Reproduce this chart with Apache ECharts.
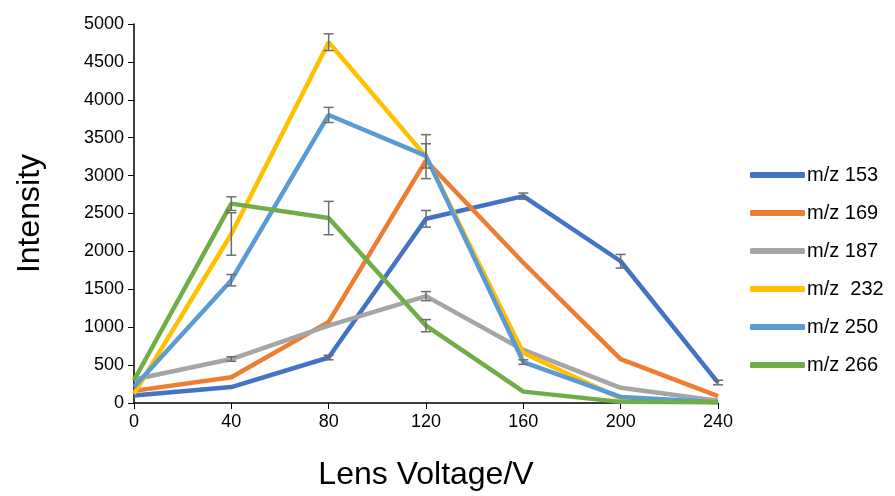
<!DOCTYPE html>
<html><head><meta charset="utf-8">
<script src="https://cdn.jsdelivr.net/npm/echarts@6/dist/echarts.min.js"></script>
<style>html,body{margin:0;padding:0;background:#fff}#c{width:895px;height:496px}</style>
</head><body><div id="c"></div>
<script>
var categories = ['0','40','80','120','160','200','240'];
var yTicks = [0,500,1000,1500,2000,2500,3000,3500,4000,4500,5000];
var names = ['m/z 153','m/z 169','m/z 187','m/z  232','m/z 250','m/z 266'];
var colors = ['#4472C4','#ED7D31','#A5A5A5','#FFC000','#5B9BD5','#70AD47'];
var mz153 = [100, 210, 600, 2430, 2730, 1870, 270];
var mz169 = [160, 340, 1070, 3200, 1850, 580, 90];
var mz187 = [310, 580, 1020, 1410, 700, 200, 30];
var mz232 = [120, 2230, 4760, 3250, 660, 60, 10];
var mz250 = [210, 1620, 3800, 3260, 540, 80, 10];
var mz266 = [300, 2630, 2440, 1020, 150, 15, 10];
var err153 = [0, 0, 30, 110, 40, 90, 30];
var err169 = [0, 0, 0, 0, 0, 0, 0];
var err187 = [0, 30, 0, 60, 0, 0, 0];
var err232 = [0, 280, 110, 290, 0, 0, 0];
var err250 = [0, 75, 100, 160, 30, 0, 0];
var err266 = [0, 90, 220, 80, 0, 0, 0];

var values = [mz153, mz169, mz187, mz232, mz250, mz266];
var errs = [err153, err169, err187, err232, err250, err266];

var chart = echarts.init(document.getElementById('c'));
var series = [];
values.forEach(function(v, k){
  series.push({
    name: names[k], type: 'line', data: v, symbol: 'none',
    lineStyle: {width: 4.5, color: colors[k]}, itemStyle: {color: colors[k]},
    z: 2 + k
  });
});
var errData = [];
values.forEach(function(v, k){
  v.forEach(function(val, i){
    if (errs[k][i] > 0) errData.push([i, val, errs[k][i]]);
  });
});
series.push({
  type: 'custom', data: errData, z: 20, silent: true,
  encode: {x: 0, y: 1},
  renderItem: function(params, api){
    var x = api.value(0), y = api.value(1), e = api.value(2);
    var hi = api.coord([x, y + e]);
    var lo = api.coord([x, y - e]);
    var w = 5;
    var st = {stroke: '#6d6d6d', lineWidth: 1.5, fill: null};
    return {type: 'group', children: [
      {type: 'line', shape: {x1: hi[0], y1: hi[1], x2: lo[0], y2: lo[1]}, style: st},
      {type: 'line', shape: {x1: hi[0]-w, y1: hi[1], x2: hi[0]+w, y2: hi[1]}, style: st},
      {type: 'line', shape: {x1: lo[0]-w, y1: lo[1], x2: lo[0]+w, y2: lo[1]}, style: st}
    ]};
  }
});

chart.setOption({
  animation: false,
  textStyle: {fontFamily: 'Liberation Sans, Arial, sans-serif'},
  grid: {left: 134, right: 177, top: 24, bottom: 92},
  legend: {
    orient: 'vertical', left: 745, top: 160,
    data: names, itemWidth: 55, itemHeight: 6, itemGap: 18, icon: 'roundRect',
    textStyle: {fontSize: 20, color: '#000', padding: [0,0,0,-3]}
  },
  xAxis: {
    type: 'category', data: categories, boundaryGap: false,
    name: 'Lens Voltage/V', nameLocation: 'middle', nameGap: 56,
    nameTextStyle: {fontSize: 32, color: '#000'},
    axisLine: {lineStyle: {color: '#000', width: 1.5}},
    axisTick: {alignWithLabel: true, length: 6, lineStyle: {color: '#000'}},
    axisLabel: {fontSize: 18, color: '#000', margin: 10}
  },
  yAxis: {
    type: 'value', min: yTicks[0], max: yTicks[yTicks.length-1], interval: 500,
    name: 'Intensity', nameLocation: 'middle', nameGap: 88,
    nameTextStyle: {fontSize: 32, color: '#000'},
    splitLine: {show: false},
    axisLine: {show: true, lineStyle: {color: '#000', width: 1.5}},
    axisTick: {show: true, length: 6, lineStyle: {color: '#000'}},
    axisLabel: {fontSize: 18, color: '#000', margin: 10, formatter: function(v){ return String(v); }}
  },
  series: series
});
</script></body></html>
